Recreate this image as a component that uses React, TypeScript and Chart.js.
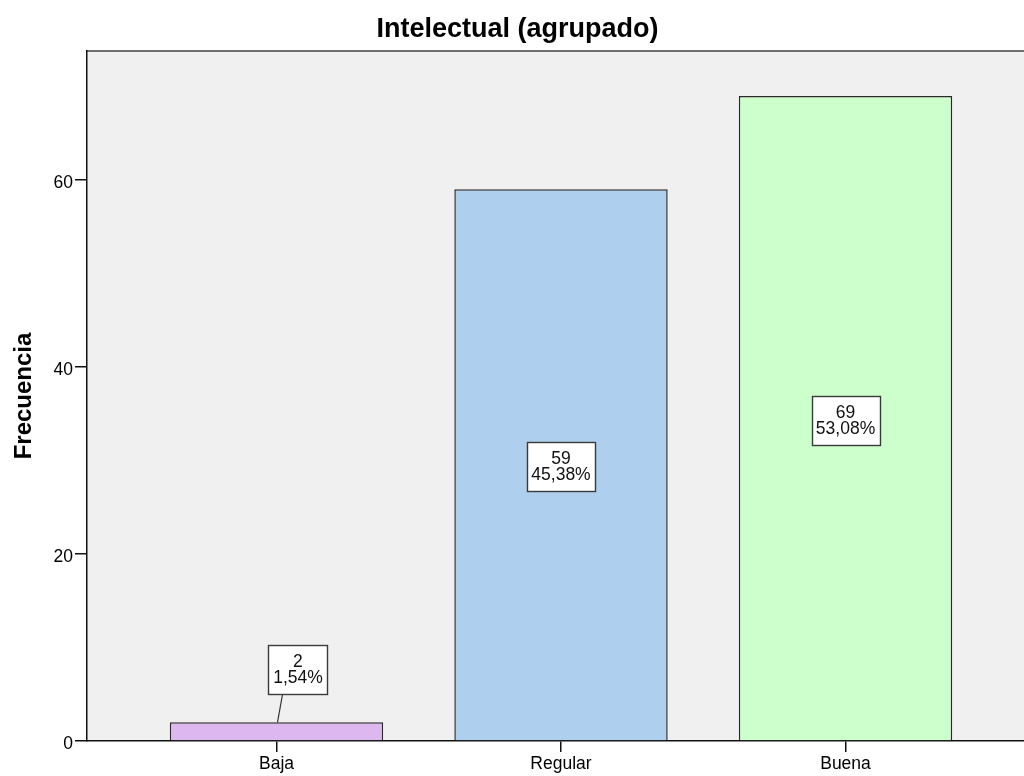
import React, { useEffect, useRef } from "react";
import { Chart, registerables } from "chart.js";

Chart.register(...registerables);

const FONT = "'Liberation Sans', Arial, sans-serif";

const chartTitle = "Intelectual (agrupado)";
const yAxisTitle = "Frecuencia";
const categories = ["Baja", "Regular", "Buena"];
const counts = [2, 59, 69];
const percentLabels = ["1,54%", "45,38%", "53,08%"];
const barColors = ["#ddb8f0", "#aecfee", "#ccffcc"];
const yTickStep = 20;
const yMax = 73.8;
const xMin = -0.666;
const xMax = 2.666;

const backgroundPlugin = {
  id: "plotBackground",
  beforeDraw(chart: any) {
    const { ctx, chartArea } = chart;
    ctx.save();
    ctx.fillStyle = "#f0f0f0";
    ctx.fillRect(chartArea.left, chartArea.top, chartArea.right - chartArea.left, chartArea.bottom - chartArea.top);
    ctx.fillStyle = "#707070";
    ctx.fillRect(chartArea.left - 1, chartArea.top - 1, chartArea.right - chartArea.left + 1, 2);
    ctx.restore();
  },
};

const labelPlugin = {
  id: "barLabels",
  afterDatasetsDraw(chart: any) {
    const { ctx } = chart;
    const meta = chart.getDatasetMeta(0);
    ctx.save();
    ctx.font = `17.5px ${FONT}`;
    ctx.textAlign = "center";
    ctx.textBaseline = "middle";
    meta.data.forEach((bar: any, i: number) => {
      const { x, y, base } = bar.getProps(["x", "y", "base"], true);
      const lines = [String(counts[i]), percentLabels[i]];
      const tw = Math.max(...lines.map((l) => ctx.measureText(l).width));
      const bw = Math.round(tw + 9);
      const bh = 49;
      const barH = base - y;
      let cx: number;
      let top: number;
      let leader = false;
      if (barH > bh + 10) {
        cx = x;
        top = (y + base) / 2 + 2 - bh / 2;
      } else {
        cx = x + 21.5;
        top = y - 28 - bh;
        leader = true;
      }
      const left = Math.round(cx - bw / 2) + 0.5;
      top = Math.round(top) + 0.5;
      if (leader) {
        ctx.strokeStyle = "#333";
        ctx.lineWidth = 1.2;
        ctx.beginPath();
        ctx.moveTo(x + 1, y);
        ctx.lineTo(x + 6, top + bh);
        ctx.stroke();
      }
      ctx.fillStyle = "#ffffff";
      ctx.fillRect(left, top, bw, bh);
      ctx.strokeStyle = "#3a3a3a";
      ctx.lineWidth = 1.4;
      ctx.strokeRect(left, top, bw, bh);
      ctx.fillStyle = "#111";
      const mid = top + bh / 2;
      ctx.fillText(lines[0], cx, mid - 8);
      ctx.fillText(lines[1], cx, mid + 8);
    });
    ctx.restore();
  },
};

export default function App() {
  const canvasRef = useRef<HTMLCanvasElement | null>(null);

  useEffect(() => {
    const canvas = canvasRef.current;
    if (!canvas) return;
    const chart = new Chart(canvas, {
      type: "bar",
      data: {
        datasets: [
          {
            data: counts.map((v, i) => ({ x: i, y: v })),
            backgroundColor: barColors,
            borderColor: "#2a2a2a",
            borderWidth: 1.5,
            barPercentage: 0.75,
            categoryPercentage: 1,
          },
        ],
      },
      options: {
        responsive: false,
        animation: false,
        devicePixelRatio: 1,
        layout: { padding: 0 },
        plugins: {
          legend: { display: false },
          tooltip: { enabled: false },
          title: {
            display: true,
            text: chartTitle,
            color: "#000",
            font: { family: FONT, size: 27, weight: "bold" },
            padding: { top: 13.7, bottom: 4.9 },
          },
        },
        scales: {
          x: {
            type: "linear",
            min: xMin,
            max: xMax,
            offset: false,
            afterBuildTicks: (scale: any) => {
              scale.ticks = categories.map((_, i) => ({ value: i }));
            },
            afterFit: (scale: any) => {
              scale.height = 35;
            },
            ticks: {
              callback: (value: any) => categories[value as number] ?? "",
              color: "#000",
              font: { family: FONT, size: 17.5 },
              padding: 1.5,
              maxRotation: 0,
              autoSkip: false,
            },
            grid: {
              offset: false,
              drawOnChartArea: false,
              drawTicks: true,
              tickLength: 11,
              color: "#111",
              lineWidth: 1.5,
            },
            border: { display: true, color: "#111", width: 1.5 },
          },
          y: {
            min: 0,
            max: yMax,
            afterFit: (scale: any) => {
              scale.width = 87;
            },
            ticks: {
              stepSize: yTickStep,
              includeBounds: false,
              color: "#000",
              font: { family: FONT, size: 17.5 },
              padding: 2,
              labelOffset: 3,
            },
            grid: {
              drawOnChartArea: false,
              drawTicks: true,
              tickLength: 12,
              color: "#111",
              lineWidth: 1.5,
            },
            border: { display: true, color: "#111", width: 1.5 },
            title: {
              display: true,
              text: yAxisTitle,
              color: "#000",
              font: { family: FONT, size: 24, weight: "bold" },
              padding: { top: 10, bottom: 0 },
            },
          },
        },
      },
      plugins: [backgroundPlugin, labelPlugin],
    } as any);
    return () => chart.destroy();
  }, []);

  return (
    <div
      style={{
        position: "fixed",
        left: 0,
        top: 0,
        width: 1024,
        height: 776,
        overflow: "hidden",
        background: "#fff",
      }}
    >
      <canvas ref={canvasRef} width={1035} height={776} style={{ display: "block" }} />
    </div>
  );
}
